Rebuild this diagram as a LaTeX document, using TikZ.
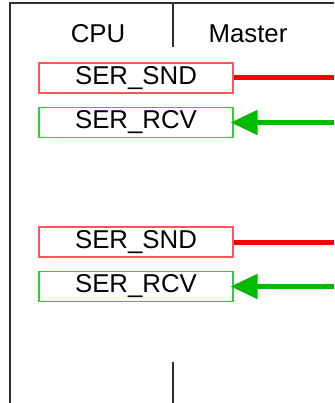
\documentclass[tikz,border=0pt]{standalone}
\usepackage{fontspec}
\setmainfont{Liberation Sans}
\usetikzlibrary{positioning,arrows.meta}
\definecolor{serRedLine}{HTML}{FF0000}
\definecolor{serRedBox}{HTML}{FF5555}
\definecolor{serGreenLine}{HTML}{00BB00}
\definecolor{serGreenBox}{HTML}{33CC33}
\definecolor{serGreyLine}{HTML}{303030}

\tikzset{
  framePart/.style={draw=serGreyLine, line width=1.2pt},
  headLabel/.style={font=\fontsize{25.8}{30}\selectfont, inner sep=0pt},
  blockBox/.style={draw, line width=1.1pt, minimum width=194pt, minimum height=30pt,
    inner sep=0pt, font=\fontsize{25.8}{30}\selectfont},
  sndBox/.style={blockBox, color=serRedBox, text=black},
  rcvBox/.style={blockBox, color=serGreenBox, text=black},
  sndLine/.style={serRedLine, line width=5pt},
  rcvLine/.style={serGreenLine, line width=5pt, shorten >=-3pt,
    -{Triangle[length=27pt,width=24pt]}}
}

\begin{document}
\begin{tikzpicture}[x=1pt,y=-1pt]
\useasboundingbox (0,0) rectangle (334,403);

% --- FRAME ---
\draw[framePart] (10,403) -- (10,3) -- (334,3);
\draw[framePart] (173,3) -- (173,47);
\draw[framePart] (173,362) -- (173,403);

% --- HEADINGS ---
\node[headLabel] (cpu) at (98,34) {CPU};
\node[headLabel] (master) at (248,34) {Master};

% --- FUNCTION BLOCKS ---
\node[sndBox] (snd1) at (136,78) {SER\_SND};
\node[rcvBox] (rcv1) at (136,122.5) {SER\_RCV};
\node[sndBox] (snd2) at (136,242) {SER\_SND};
\node[rcvBox] (rcv2) at (136,286.5) {SER\_RCV};

% --- CONNECTORS ---
\foreach \i in {1,2} {
  \coordinate (sndEnd\i) at (334,0 |- snd\i.east);
  \coordinate (rcvStart\i) at (334,0 |- rcv\i.east);
  \draw[sndLine] (snd\i.east) -- (sndEnd\i);
  \draw[rcvLine] (rcvStart\i) -- (rcv\i.east);
}

\end{tikzpicture}
\end{document}
